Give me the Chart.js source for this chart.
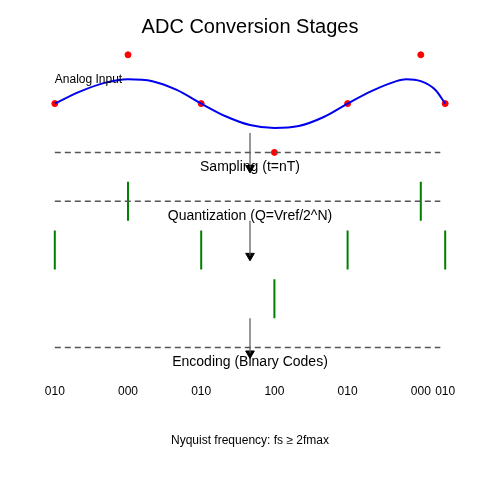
<!DOCTYPE html>
<html><head><meta charset="utf-8">
<script src="https://cdn.jsdelivr.net/npm/chart.js@4"></script>
<style>html,body{margin:0;padding:0;background:#fff}</style>
</head><body>
<canvas id="c" width="500" height="500"></canvas>
<script>
const curveX = [50,75,100,125,150,175,200,225,250,275,300,325,350,375,400,410,425,440,450];
const curveY = [100,88,79,75,77,86,100,113,122,125,123,114,100,87,77,75,77,86,100];
const sampleX = [50,125,200,275,350,425,450];
const sampleY = [100,50,100,150,100,50,100];
const codes = ['010','000','010','100','010','000','010'];
const dashY = [150,200,350];
const stemX = [125,425,50,200,350,450,275];
const stemTop = [180,180,230,230,230,230,280];
const stemBottom = [220,220,270,270,270,270,320];
const arrowX = 250;
const arrowFrom = [130,220,320];
const arrowTo = [170,260,360];
const labels = [
  {t:'ADC Conversion Stages',x:250,y:22,s:20,a:'center'},
  {t:'Analog Input',x:50,y:75,s:12,a:'left'},
  {t:'Sampling (t=nT)',x:250,y:165,s:14,a:'center'},
  {t:'Quantization (Q=Vref/2^N)',x:250,y:215,s:14,a:'center'},
  {t:'Encoding (Binary Codes)',x:250,y:365,s:14,a:'center'},
  {t:'Nyquist frequency: fs ≥ 2fmax',x:250,y:445,s:12,a:'center'}
];
const codeY = 395;

const ds = [];
dashY.forEach(y=>ds.push({type:'line',data:[{x:50,y},{x:445,y}],borderColor:'#555',borderWidth:1.5,borderDash:[6,4],pointRadius:0}));
ds.push({type:'line',data:curveX.map((x,i)=>({x,y:curveY[i]})),borderColor:'#0000ee',borderWidth:2,tension:0.4,pointRadius:0,cubicInterpolationMode:'monotone'});
ds.push({type:'scatter',data:sampleX.map((x,i)=>({x,y:sampleY[i]})),backgroundColor:'red',borderColor:'red',pointRadius:3});
stemX.forEach((x,i)=>ds.push({type:'line',data:[{x,y:stemTop[i]},{x,y:stemBottom[i]}],borderColor:'green',borderWidth:2,pointRadius:0}));
arrowFrom.forEach((f,i)=>{
  ds.push({type:'line',data:[{x:arrowX,y:f},{x:arrowX,y:arrowTo[i]-4}],borderColor:'#555',borderWidth:1.2,pointRadius:0});
  ds.push({type:'scatter',data:[{x:arrowX,y:arrowTo[i]-4}],pointStyle:'triangle',rotation:180,pointRadius:5,backgroundColor:'#000',borderColor:'#000'});
});

const textPlugin = {id:'txt',afterDraw(ch){
  const c=ch.ctx, xs=ch.scales.x, ys=ch.scales.y;
  c.save(); c.fillStyle='#000'; c.textBaseline='middle';
  labels.forEach(l=>{c.font=l.s+'px "Liberation Sans", Arial, sans-serif';c.textAlign=l.a;c.fillText(l.t,xs.getPixelForValue(l.x),ys.getPixelForValue(l.y));});
  c.font='12px "Liberation Sans", Arial, sans-serif'; c.textAlign='center';
  codes.forEach((t,i)=>c.fillText(t,xs.getPixelForValue(sampleX[i]),ys.getPixelForValue(codeY)));
  c.restore();
}};

new Chart(document.getElementById('c'),{
  data:{datasets:ds},
  options:{responsive:false,animation:false,
    layout:{padding:0},
    plugins:{legend:{display:false},tooltip:{enabled:false}},
    scales:{x:{type:'linear',min:0,max:500,display:false},
            y:{type:'linear',min:0,max:500,reverse:true,display:false}}},
  plugins:[textPlugin]
});
</script>
</body></html>
